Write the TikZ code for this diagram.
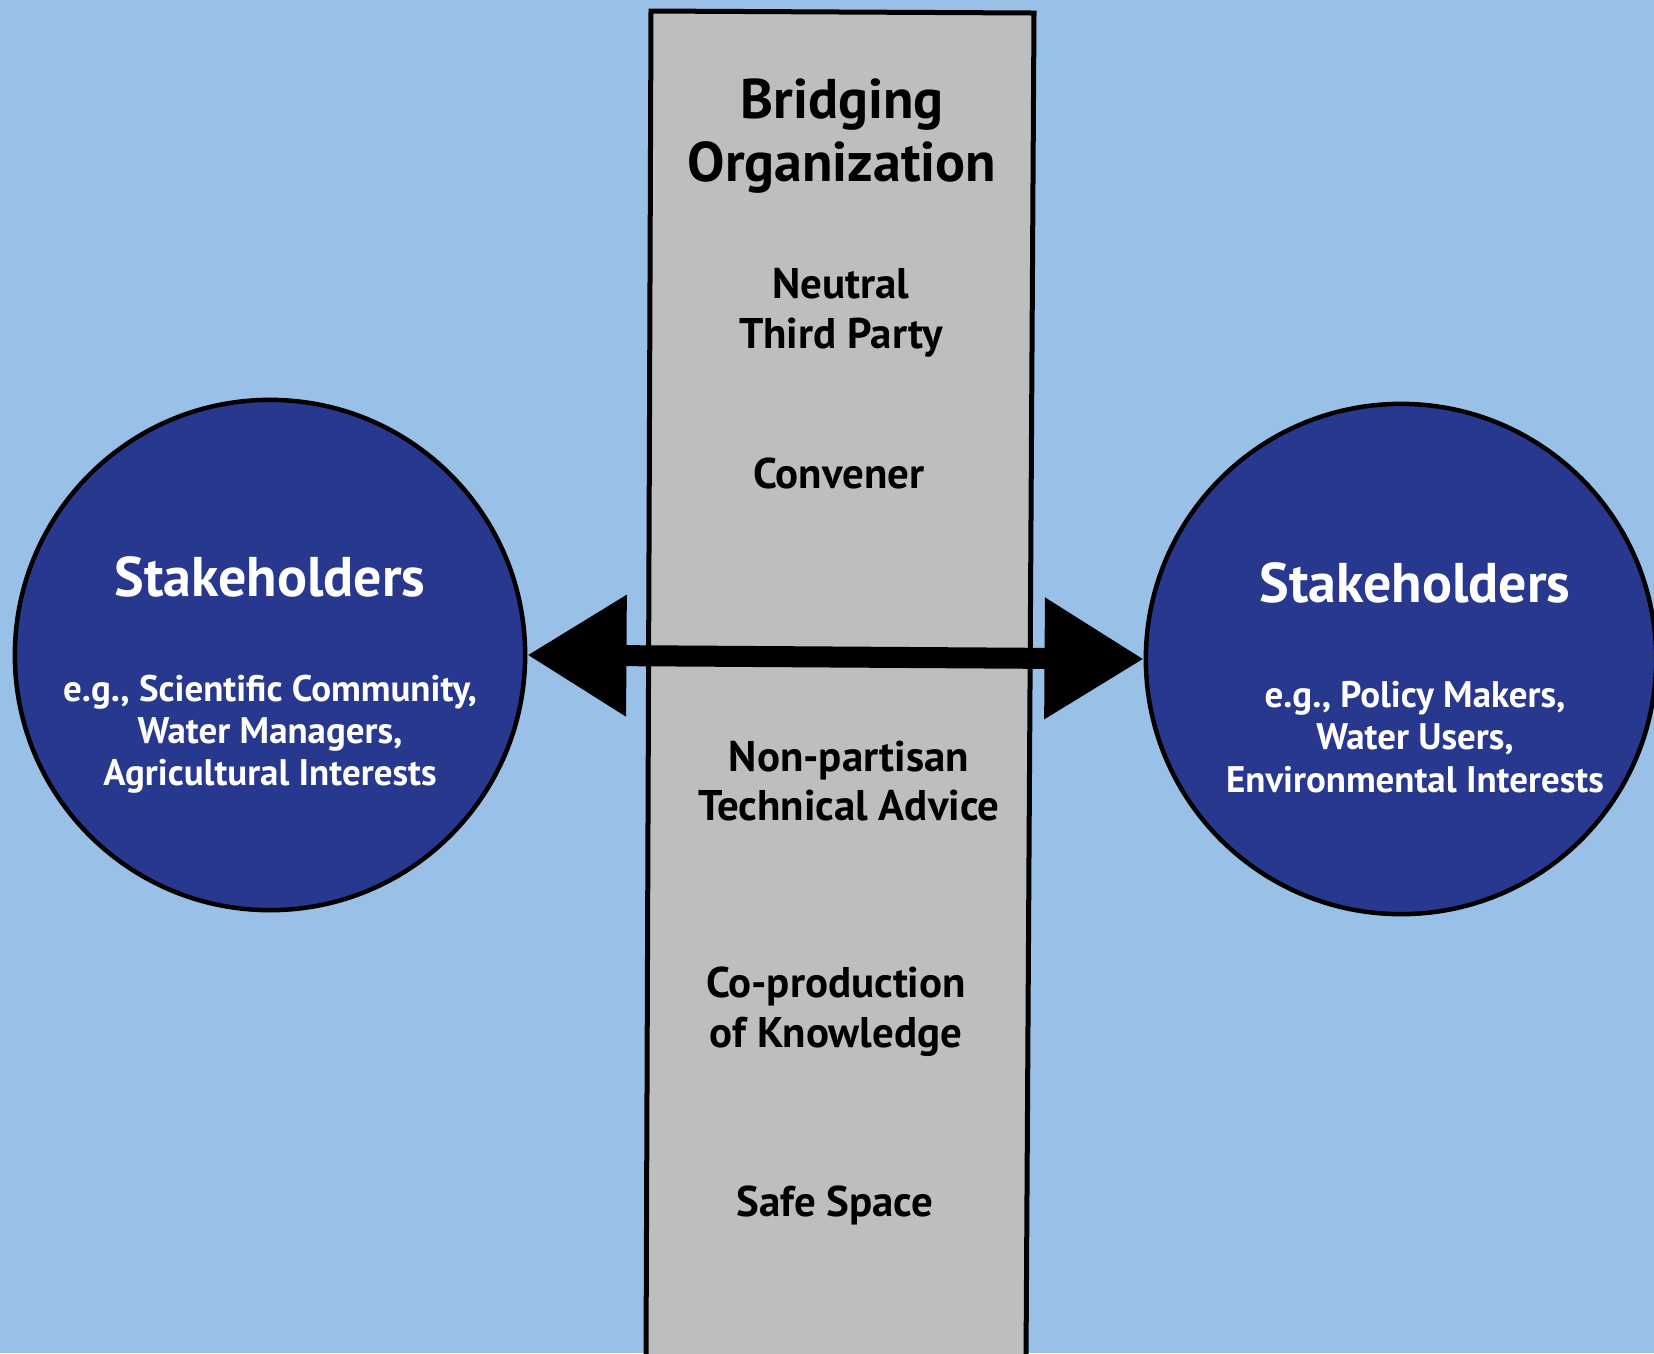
\documentclass[tikz,border=0pt]{standalone}
\usepackage{fontspec}
\setmainfont{PT Sans}
\usetikzlibrary{arrows.meta}
\definecolor{skyblue}{RGB}{153,192,230}
\definecolor{deepblue}{RGB}{41,56,143}
\definecolor{colgray}{RGB}{189,190,192}
\tikzset{
  group/.style  = {circle, draw=black, line width=0.45mm, fill=deepblue, minimum size=5.1cm, inner sep=0pt},
  column/.style = {draw=black, line width=0.5mm, fill=colgray},
  head/.style   = {font=\bfseries\fontsize{15.9}{18}\selectfont, align=center, inner sep=1pt},
  role/.style   = {font=\bfseries\fontsize{12.2}{14.2}\selectfont, align=center, inner sep=1pt},
  ghead/.style  = {font=\bfseries\fontsize{15.9}{18}\selectfont, text=white, align=center, inner sep=1pt},
  gsub/.style   = {font=\bfseries\fontsize{10.5}{12}\selectfont, text=white, align=center, inner sep=1pt},
  link/.style   = {{Triangle[length=0.99cm,width=1.16cm]}-{Triangle[length=0.99cm,width=1.16cm]}, line width=0.21cm},
}

\begin{document}
\begin{tikzpicture}[x=0.01cm, y=-0.01cm]

  \fill[skyblue] (0,0) rectangle (1654,1353);
  \useasboundingbox (0,0) rectangle (1654,1353);

  % the bridging organization
  \draw[column] (651,11) -- (1034,13) -- (1026,1362) -- (646,1362) -- cycle;
  \node[head] (bo)  at (842,136)  {Bridging\\Organization};
  \node[role] (ntp) at (841,313)  {Neutral\\Third Party};
  \node[role] (cv)  at (839,473)  {Convener};
  \node[role] (nta) at (849,781)  {Non-partisan\\Technical Advice};
  \node[role] (cpk) at (836,1012) {Co-production\\of Knowledge};
  \node[role] (ss)  at (835,1205) {Safe Space};

  % stakeholder groups
  \node[group] (lg) at (270,655)  {};
  \node[group] (rg) at (1401,659) {};
  \node[ghead] (lgh) at (270,577)  {Stakeholders};
  \node[gsub]  (lgs) at (270,734)  {e.g., Scientific Community,\\Water Managers,\\Agricultural Interests};
  \node[ghead] (rgh) at (1415,583) {Stakeholders};
  \node[gsub]  (rgs) at (1415,737) {e.g., Policy Makers,\\Water Users,\\Environmental Interests};

  % two-way link
  \draw[link] (lg.east) -- (rg.west);

\end{tikzpicture}
\end{document}
